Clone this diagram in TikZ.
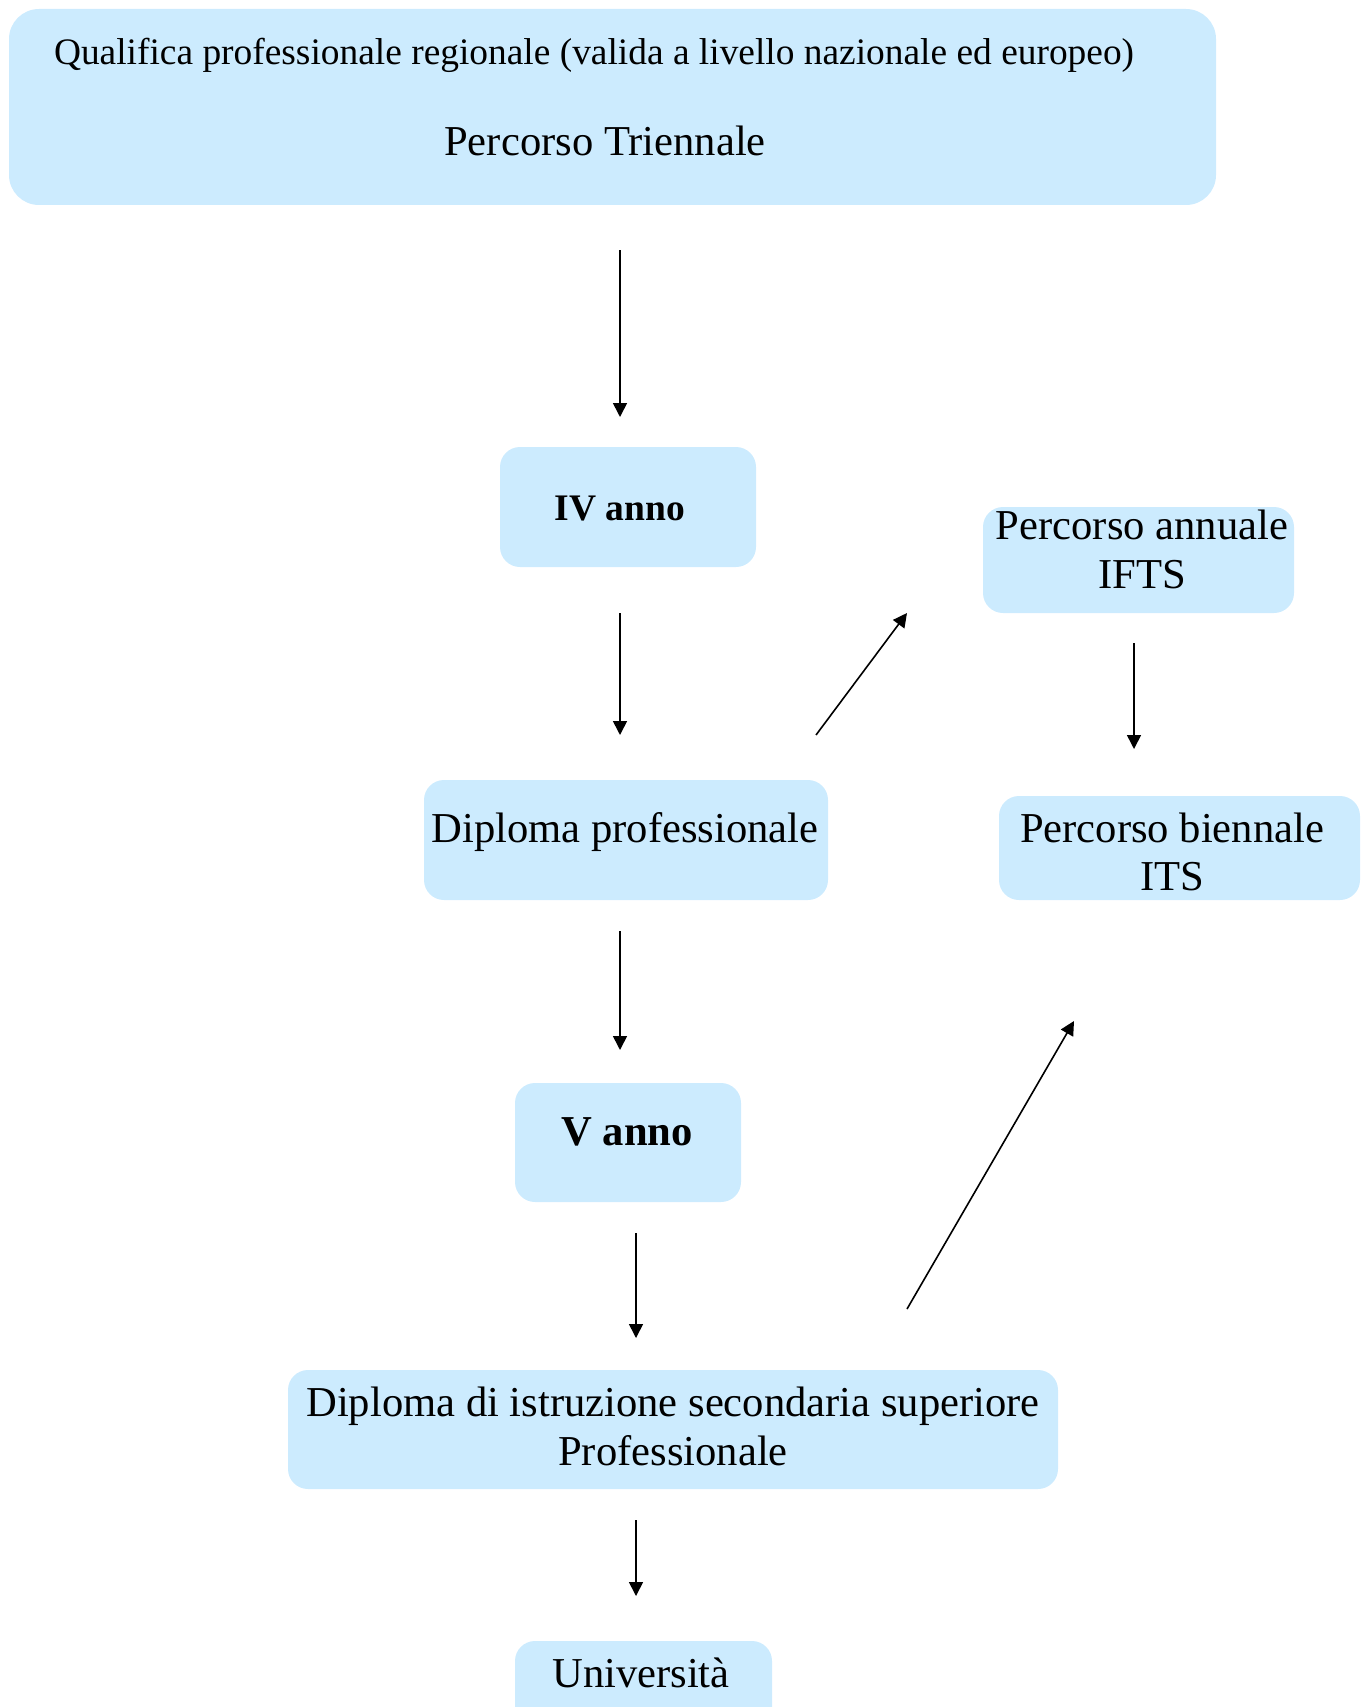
\documentclass[tikz,border=0pt]{standalone}
\usepackage{fontspec}
\setmainfont{Liberation Serif}
\usetikzlibrary{arrows.meta}
\definecolor{boxblue}{HTML}{CCEBFE}
\tikzset{
  box/.style={fill=boxblue, draw=none, rounded corners=20pt, inner sep=0pt},
  lbl/.style={anchor=base, inner sep=0pt, font=\fontsize{42.6}{48}\selectfont},
  conn/.style={line width=1.6pt, -{Triangle[length=14pt,width=14pt]}}
}
\begin{document}
\begin{tikzpicture}[x=1pt,y=-1pt]
\useasboundingbox (0,0) rectangle (1367,1707);
% boxes
\path[box, rounded corners=30pt] (9,9) rectangle (1216,205);
\node[box, minimum width=256pt, minimum height=120pt] (iv) at (628,507) {};
\node[box, minimum width=311pt, minimum height=106pt] (ifts) at (1138.5,560) {};
\node[box, minimum width=404pt, minimum height=120pt] (dprof) at (626,840) {};
\node[box, minimum width=361pt, minimum height=104pt] (its) at (1179.5,848) {};
\node[box, minimum width=226pt, minimum height=119pt] (v) at (628,1142.5) {};
\node[box, minimum width=770pt, minimum height=119pt] (distr) at (673,1429.5) {};
\node[box, minimum width=257pt, minimum height=120pt] (univ) at (643.5,1701) {};
% labels
\node[lbl, font=\fontsize{37.4}{42}\selectfont] (q1) at (594,65) {Qualifica professionale regionale (valida a livello nazionale ed europeo)};
\node[lbl] (q2) at (605,156) {Percorso Triennale};
\node[lbl, font=\fontsize{37.5}{42}\selectfont\bfseries] (ivt) at (620,520) {IV anno};
\node[lbl] (ifts1) at (1142,539) {Percorso annuale};
\node[lbl] (ifts2) at (1142,588) {IFTS};
\node[lbl] (dproft) at (625,842) {Diploma professionale};
\node[lbl] (its1) at (1172,842) {Percorso biennale};
\node[lbl] (its2) at (1172,890) {ITS};
\node[lbl, font=\fontsize{42.6}{48}\selectfont\bfseries] (vt) at (627,1145) {V anno};
\node[lbl] (distr1) at (673,1416) {Diploma di istruzione secondaria superiore};
\node[lbl] (distr2) at (673,1465) {Professionale};
\node[lbl] (univt) at (641,1687) {Università};
% connector end points
\coordinate (a1s) at (620,250);  \coordinate (a1e) at (620,417);
\coordinate (a2s) at (620,613);  \coordinate (a2e) at (620,735);
\coordinate (d1s) at (816,735);  \coordinate (d1e) at (907,613);
\coordinate (a3s) at (1134,643); \coordinate (a3e) at (1134,749);
\coordinate (a4s) at (620,931);  \coordinate (a4e) at (620,1050);
\coordinate (a5s) at (636,1233); \coordinate (a5e) at (636,1338);
\coordinate (d2s) at (907,1309); \coordinate (d2e) at (1074,1021);
\coordinate (a6s) at (636,1520); \coordinate (a6e) at (636,1596);
\draw[conn] (a1s) -- (a1e);
\draw[conn] (a2s) -- (a2e);
\draw[conn] (d1s) -- (d1e);
\draw[conn] (a3s) -- (a3e);
\draw[conn] (a4s) -- (a4e);
\draw[conn] (a5s) -- (a5e);
\draw[conn] (d2s) -- (d2e);
\draw[conn] (a6s) -- (a6e);
\end{tikzpicture}
\end{document}
